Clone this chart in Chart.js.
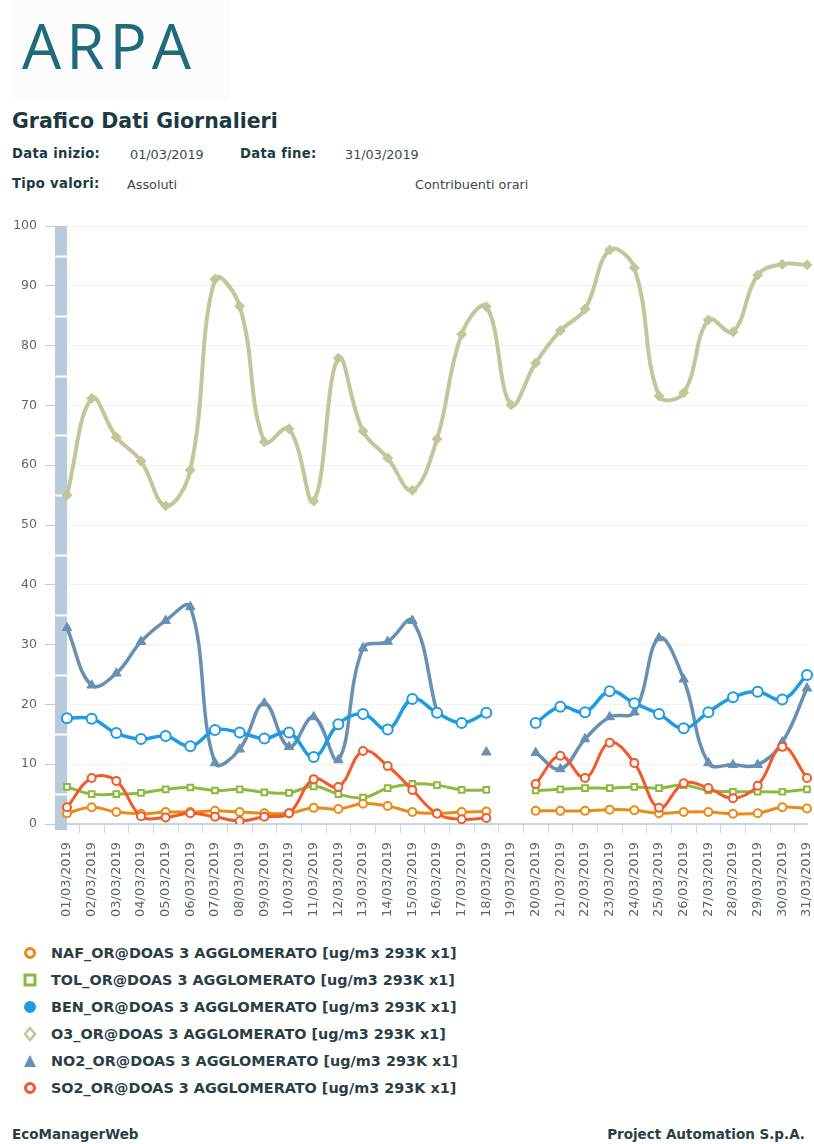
<!DOCTYPE html>
<html>
<head>
<meta charset="utf-8">
<script src="https://cdn.jsdelivr.net/npm/chart.js@4"></script>
<style>
  html, body { margin: 0; padding: 0; background: #fff; }
  body { width: 814px; height: 1144px; position: relative; overflow: hidden; font-family: "DejaVu Sans", Verdana, sans-serif; color: #223c44; }
  .abs { position: absolute; white-space: nowrap; }
  #logoBox { left: 14px; top: 0; width: 216px; height: 100px; background: #fcfcfc; }
  #logo { left: 22px; top: 14px; font-family: "Open Sans", sans-serif; font-size: 62px; font-weight: 400; letter-spacing: 5px; color: #1f6b7c; line-height: 62px; }
  #title { left: 12px; top: 109px; font-size: 20.5px; font-weight: bold; color: #1d3a42; }
  .lbl { font-size: 13.2px; font-weight: bold; color: #1d3a42; letter-spacing: 0.3px; }
  .val { font-size: 12.8px; color: #3a4a50; }
  #chartWrap { left: 0; top: 210px; width: 814px; height: 724px; }
  .leg { left: 22px; font-size: 14.4px; font-weight: bold; color: #2a3f45; display: flex; align-items: center; }
  .leg svg { margin-right: 13px; }
  .foot { top: 1126px; font-size: 13.5px; font-weight: bold; color: #2a3f45; }
</style>
</head>
<body>
<div class="abs" id="logoBox"></div>
<div class="abs" id="logo">ARPA</div>
<div class="abs" id="title">Grafico Dati Giornalieri</div>
<div class="abs lbl" style="left:12px; top:146px">Data inizio:</div>
<div class="abs val" style="left:130px; top:147px">01/03/2019</div>
<div class="abs lbl" style="left:240px; top:146px">Data fine:</div>
<div class="abs val" style="left:345px; top:147px">31/03/2019</div>
<div class="abs lbl" style="left:12px; top:176px">Tipo valori:</div>
<div class="abs val" style="left:127px; top:177px">Assoluti</div>
<div class="abs val" style="left:415px; top:177px">Contribuenti orari</div>
<div class="abs" id="chartWrap"><canvas id="chart" width="814" height="724"></canvas></div>
<div id="legend"></div>
<div class="abs foot" style="left:12px">EcoManagerWeb</div>
<div class="abs foot" style="right:9px">Project Automation S.p.A.</div>

<script>
const days = [
  '01/03/2019','02/03/2019','03/03/2019','04/03/2019','05/03/2019','06/03/2019','07/03/2019','08/03/2019',
  '09/03/2019','10/03/2019','11/03/2019','12/03/2019','13/03/2019','14/03/2019','15/03/2019','16/03/2019',
  '17/03/2019','18/03/2019','19/03/2019','20/03/2019','21/03/2019','22/03/2019','23/03/2019','24/03/2019',
  '25/03/2019','26/03/2019','27/03/2019','28/03/2019','29/03/2019','30/03/2019','31/03/2019'
];

const seriesNames = [
  'NAF_OR@DOAS 3 AGGLOMERATO [ug/m3 293K x1]',
  'TOL_OR@DOAS 3 AGGLOMERATO [ug/m3 293K x1]',
  'BEN_OR@DOAS 3 AGGLOMERATO [ug/m3 293K x1]',
  'O3_OR@DOAS 3 AGGLOMERATO [ug/m3 293K x1]',
  'NO2_OR@DOAS 3 AGGLOMERATO [ug/m3 293K x1]',
  'SO2_OR@DOAS 3 AGGLOMERATO [ug/m3 293K x1]'
];

// daily values, null = no data
const naf = [1.8, 2.8, 2.0, 1.7, 2.0, 2.0, 2.2, 2.0, 1.8, 1.8, 2.7, 2.5, 3.4, 3.0, 2.0, 1.8,
             2.0, 2.1, null, 2.2, 2.2, 2.2, 2.4, 2.3, 1.8, 2.0, 2.0, 1.7, 1.8, 2.8, 2.6];
const tol = [6.2, 5.0, 5.0, 5.2, 5.8, 6.1, 5.6, 5.8, 5.3, 5.2, 6.3, 5.0, 4.4, 6.0, 6.7, 6.5,
             5.7, 5.7, null, 5.6, 5.8, 6.0, 6.0, 6.2, 6.0, 6.5, 5.6, 5.4, 5.4, 5.4, 5.8];
const ben = [17.7, 17.6, 15.2, 14.2, 14.7, 13.0, 15.7, 15.3, 14.3, 15.3, 11.2, 16.7, 18.4, 15.8, 20.9, 18.6,
             16.9, 18.6, null, 16.9, 19.6, 18.7, 22.2, 20.2, 18.4, 16.0, 18.7, 21.2, 22.1, 20.8, 24.9];
const o3  = [55.0, 71.2, 64.7, 60.7, 53.2, 59.2, 91.1, 86.6, 63.9, 66.1, 54.0, 77.9, 65.7, 61.2, 55.8, 64.4,
             81.9, 86.5, 70.1, 77.1, 82.5, 86.1, 96.0, 93.0, 71.6, 72.1, 84.3, 82.3, 91.8, 93.6, 93.5];
const no2 = [32.8, 23.2, 25.2, 30.5, 34.0, 36.3, 10.2, 12.5, 20.2, 12.9, 17.9, 10.7, 29.4, 30.5, 34.0, 18.6,
             null, 12.0, null, 11.9, 9.2, 14.2, 17.9, 18.7, 31.1, 24.2, 10.2, 9.9, 9.9, 13.7, 22.7];
const so2 = [2.8, 7.7, 7.2, 1.3, 1.1, 1.8, 1.2, 0.5, 1.2, 1.8, 7.5, 6.2, 12.2, 9.7, 5.7, 1.7,
             0.8, 1.0, null, 6.7, 11.4, 7.7, 13.6, 10.2, 2.7, 6.8, 6.0, 4.3, 6.4, 12.9, 7.7];

const yTicks = [0, 10, 20, 30, 40, 50, 60, 70, 80, 90, 100];

const colors = ['#ec8a16', '#8cba40', '#1f9be1', '#c4c69a', '#6790b2', '#f05b29'];
const shapes = ['circle', 'rect', 'circle', 'rectRot', 'triangle', 'circle'];
const hollow = [true, true, true, false, false, true];
const values = [naf, tol, ben, o3, no2, so2];
const lineW = [3, 3, 3.5, 4, 3.5, 3];
const radii = [4, 4, 5, 5, 5.5, 4];

const leftBar = {
  id: 'leftBar',
  beforeDatasetsDraw(chart) {
    const { ctx, chartArea, scales } = chart;
    const y = scales.y;
    ctx.save();
    ctx.fillStyle = '#b9cadb';
    ctx.fillRect(chartArea.left - 12, chartArea.top, 12, chartArea.bottom - chartArea.top + 6);
    ctx.strokeStyle = '#ffffff';
    ctx.lineWidth = 2;
    for (let v = 5; v < 100; v += 10) {
      const py = Math.round(y.getPixelForValue(v)) + 0.5;
      ctx.beginPath();
      ctx.moveTo(chartArea.left - 12, py);
      ctx.lineTo(chartArea.left, py);
      ctx.stroke();
    }
    ctx.restore();
  }
};

new Chart(document.getElementById('chart'), {
  type: 'line',
  data: {
    labels: days,
    datasets: values.map((v, i) => ({
      label: seriesNames[i],
      data: v,
      borderColor: colors[i],
      backgroundColor: colors[i],
      borderWidth: lineW[i],
      pointStyle: shapes[i],
      pointRadius: radii[i],
      pointBorderWidth: hollow[i] ? 2 : 1,
      pointBackgroundColor: hollow[i] ? '#ffffff' : colors[i],
      pointBorderColor: colors[i],
      tension: 0.4,
      spanGaps: false,
      order: [3, 4, 2, 6, 5, 1][i]
    }))
  },
  options: {
    responsive: false,
    animation: false,
    devicePixelRatio: 1,
    layout: { padding: { top: 16, right: 4, left: 0, bottom: 0 } },
    plugins: { legend: { display: false }, tooltip: { enabled: false } },
    scales: {
      x: {
        offset: false,
        grid: { offset: true, drawOnChartArea: false, tickLength: 9, tickColor: '#c9d5e1', lineWidth: 1 },
        border: { display: true, color: '#c9d5e1', width: 2 },
        ticks: {
          autoSkip: false, minRotation: 90, maxRotation: 90, padding: 9,
          color: '#5c666b', font: { family: 'DejaVu Sans', size: 13 }
        },
        afterFit(scale) { scale.height = 110; scale.paddingRight = 0; scale.paddingLeft = 0; }
      },
      y: {
        min: 0, max: 100,
        afterBuildTicks(scale) { scale.ticks = yTicks.map(v => ({ value: v })); },
        grid: { color: '#f1f1f1', tickColor: '#c3ccd4', tickLength: 22, lineWidth: 1 },
        border: { display: false },
        ticks: { padding: 8, color: '#5c666b', font: { family: 'DejaVu Sans', size: 12.5 } },
        afterFit(scale) { scale.width = 67; }
      }
    }
  },
  plugins: [leftBar]
});

// legend below the chart, one line per series
const legend = document.getElementById('legend');
seriesNames.forEach((name, i) => {
  const row = document.createElement('div');
  row.className = 'abs leg';
  row.style.top = (945 + i * 27) + 'px';
  const c = colors[i];
  let icon;
  if (shapes[i] === 'circle') icon = `<circle cx="8" cy="8" r="4.5" fill="${i === 2 ? c : '#fff'}" stroke="${c}" stroke-width="3"/>`;
  else if (shapes[i] === 'rect') icon = `<rect x="3" y="3" width="10" height="10" fill="#fff" stroke="${c}" stroke-width="3"/>`;
  else if (shapes[i] === 'rectRot') icon = `<polygon points="8,2 13,8 8,14 3,8" fill="#fff" stroke="${c}" stroke-width="2.5"/>`;
  else icon = `<polygon points="8,2 14,14 2,14" fill="${c}"/>`;
  row.innerHTML = `<svg width="16" height="16">${icon}</svg><span>${name}</span>`;
  legend.appendChild(row);
});
</script>
</body>
</html>
